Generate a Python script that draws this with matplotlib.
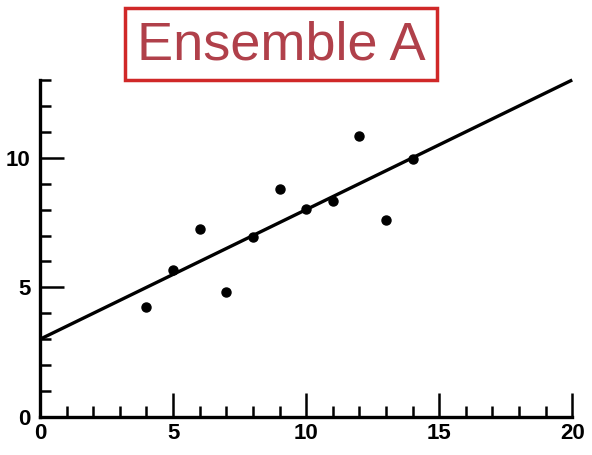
import numpy as np
import matplotlib
matplotlib.use("Agg")
import matplotlib.pyplot as plt
from matplotlib.patches import Rectangle
from matplotlib.ticker import MultipleLocator

# Anscombe set I
x = [10, 8, 13, 9, 11, 14, 6, 4, 12, 7, 5]
y = [8.04, 6.95, 7.58, 8.81, 8.33, 9.96, 7.24, 4.26, 10.84, 4.82, 5.68]
fit_x = [0, 20]
intercept = 3.0
slope = 0.5
title = "Ensemble A"

plt.rcParams['font.family'] = ['Liberation Sans', 'DejaVu Sans']

fig = plt.figure(figsize=(5.92, 4.55), dpi=100)
ax = fig.add_axes([0.0676, 0.0835, 0.899, 0.7407])

fx = np.array(fit_x)
ax.plot(fx, intercept + slope * fx, color='black', lw=2.4, solid_capstyle='butt', clip_on=False)
ax.plot(x, y, 'o', color='black', ms=6.5, clip_on=False)

ax.set_xlim(0, 20)
ax.set_ylim(0, 13)
for s in ['top', 'right']:
	ax.spines[s].set_visible(False)
for s in ['left', 'bottom']:
	ax.spines[s].set_linewidth(2.4)

ax.xaxis.set_major_locator(MultipleLocator(5))
ax.xaxis.set_minor_locator(MultipleLocator(1))
ax.yaxis.set_major_locator(MultipleLocator(5))
ax.yaxis.set_minor_locator(MultipleLocator(1))
ax.tick_params(which='major', direction='in', length=17, width=1.8, labelsize=16, pad=4)
ax.tick_params(which='minor', direction='in', length=8, width=1.8)
ax.tick_params(axis='y', pad=7)
for lab in ax.get_xticklabels() + ax.get_yticklabels():
	lab.set_fontweight('bold')

# boxed title
fig.patches.append(Rectangle((0.211, 0.824), 0.527, 0.158, transform=fig.transFigure,
	fill=False, ec='#d02828', lw=2.5))
fig.text(0.475, 0.901, title, fontsize=39, color='#b0404a', ha='center', va='center')

fig.savefig('out.png', dpi=100)
